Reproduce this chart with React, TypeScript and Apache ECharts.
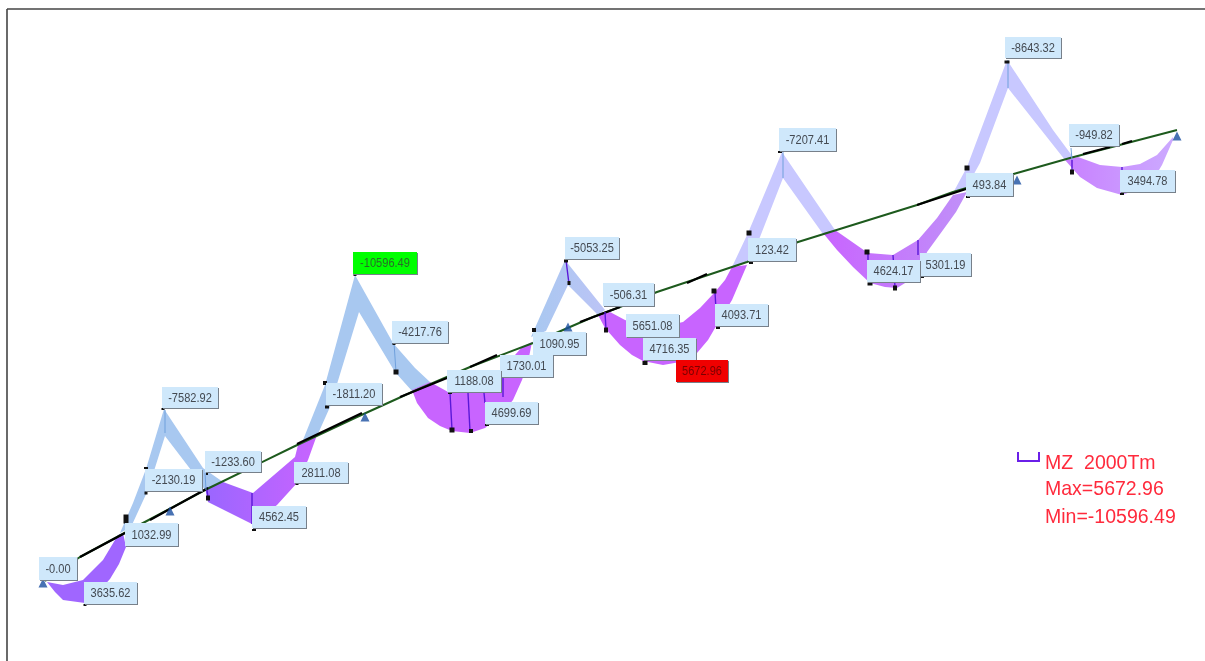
import React, { useEffect, useRef } from "react";
import * as echarts from "echarts";

// Beam axis
const beamPoints = [[45,581],[80,557],[143,523],[205,490],[293,447],[357,417],[412,392],[470,367],[533,343],[593,317],[620,307],[657,292],[747,262],[798,242],[917,205],[953,192],[1017,173],[1070,158],[1177,130]];
const beamBlackRuns = [[[80,557],[125,533]],[[150,520],[208,488]],[[297,444],[362,413]],[[400,397],[447,378]],[[470,367],[497,355]],[[535,341],[555,333]],[[580,322],[620,307]],[[687,283],[707,274]],[[917,205],[966,189]],[[1083,154],[1110,147]],[[1122,144],[1132,141]]];

// Moment diagram bands
const sag1 = [[47,582],[55,592],[63,600],[85,603],[98,592],[110,579],[119,564],[126,547],[123,533],[118,535],[103,560],[83,580],[63,585]];
const hog1 = [[120,533],[133,503],[146,469],[164,409],[203,468],[223,482],[205,490],[191,470],[165,436],[148,490],[131,527]];
const sag2 = [[205,488],[208,502],[252,524],[277,505],[297,483],[308,460],[317,435],[298,445],[295,457],[253,493],[223,482]];
const hog2 = [[303,440],[325,385],[355,275],[393,343],[415,368],[430,382],[412,391],[395,372],[359,312],[330,407],[317,436]];
const sag3 = [[412,390],[430,382],[450,393],[483,393],[500,380],[515,355],[522,347],[532,342],[528,362],[522,380],[513,400],[500,416],[485,428],[470,433],[452,431],[440,426],[428,418],[417,403]];
const hog3 = [[531,337],[565,260],[605,310],[598,315],[568,285],[546,331]];
const sag4 = [[598,315],[605,328],[620,345],[632,355],[643,361],[663,365],[680,362],[697,353],[708,340],[715,328],[732,300],[747,265],[732,267],[725,280],[715,292],[700,308],[683,322],[670,325],[640,325],[625,320],[610,312]];
const hog4 = [[732,267],[748,233],[782,152],[835,230],[823,234],[783,178],[760,237],[748,262]];
const sag5 = [[823,233],[835,230],[868,253],[893,255],[918,240],[937,218],[953,195],[967,192],[956,212],[943,230],[927,252],[922,267],[910,280],[897,288],[885,287],[870,283],[853,267],[837,250]];
const hog5 = [[953,193],[967,167],[1007,60],[1053,130],[1073,157],[1065,160],[1008,88],[980,163],[965,190]];
const sag6 = [[1065,160],[1078,157],[1100,165],[1122,167],[1140,164],[1157,155],[1173,137],[1173,140],[1162,165],[1150,185],[1122,195],[1097,188],[1080,177]];

// Labelled results
const labelTexts = ["-7582.92","-2130.19","1032.99","-1233.60","-0.00","3635.62","4562.45","2811.08","-1811.20","-10596.49","-4217.76","1090.95","1730.01","1188.08","4699.69","-5053.25","-506.31","5651.08","4716.35","5672.96","4093.71","123.42","-7207.41","5301.19","4624.17","493.84","-8643.32","-949.82","3494.78"];
const labelCorners = [[162,387],[145,469],[125,523],[205,451],[39,557],[84,582],[252,506],[294,462],[326,383],[353,252],[392,321],[533,332],[500,355],[447,370],[485,402],[565,237],[603,283],[626,314],[643,338],[676,360],[715,304],[748,238],[779,128],[920,253],[867,260],[966,173],[1005,37],[1069,124],[1120,170]];
const labelWidths = [56,57,53,56,38,53,54,54,56,64,56,53,53,54,53,54,51,53,53,52,53,48,57,51,53,47,56,50,55];
const labelHeights = [21,22,23,21,23,22,22,21,22,22,22,23,22,22,22,22,23,23,22,22,22,23,23,23,22,23,21,22,22];

// Result stations and leader lines
const nodeMarks = [[126,519,5,9],[146,468,4,2],[146,493,3,3],[163,409,3,2],[207,474,2,2],[208,498,4,5],[254,530,4,2],[297,484,3,2],[85,605,3,2],[325,383,4,4],[327,407,4,3],[355,275,3,2],[394,344,3,2],[396,372,5,5],[450,393,4,2],[452,430,5,5],[471,431,4,4],[487,425,4,2],[534,330,4,4],[566,261,4,3],[569,283,3,4],[606,330,4,5],[645,363,5,4],[714,291,5,5],[718,328,4,2],[780,152,4,2],[749,233,5,5],[751,263,4,2],[867,252,5,5],[870,284,5,3],[895,288,4,5],[967,168,5,5],[968,197,4,2],[922,277,4,2],[1007,62,5,3],[1072,172,4,5],[1122,194,4,2]];
const blueLeaders = [[[165,410],[165,433]],[[205,473],[206,490]],[[394,343],[396,372]],[[783,152],[783,178]],[[1008,60],[1008,88]],[[1071,148],[1072,160]]];
const purpleLeaders = [[[207,490],[208,498]],[[252,493],[252,524]],[[450,393],[452,430]],[[468,393],[470,431]],[[484,393],[485,403]],[[503,378],[503,397]],[[566,260],[569,284]],[[605,312],[606,330]],[[715,292],[717,328]],[[868,253],[868,262]],[[893,255],[895,287]],[[918,240],[918,255]],[[1072,160],[1072,172]],[[1122,167],[1122,171]]];
const supports = [[43,583],[170,511],[365,417],[568,327],[1017,180],[1177,136]];

const legendLines = ["MZ  2000Tm", "Max=5672.96", "Min=-10596.49"];

const BLUE = "#a8c8f0";
const LAV = "#c8c8ff";
const band = (name: string, points: number[][], fill: any) => ({
  type: "custom", name, silent: true, coordinateSystem: "cartesian2d", clip: false,
  encode: { x: 0, y: 1 }, data: points,
  renderItem: (params: any, api: any) => params.dataIndex !== 0 ? null : ({
    type: "polygon",
    shape: { points: points.map((p) => api.coord(p)) },
    style: { fill },
  }),
});
const grad = (a: string, b: string) => new echarts.graphic.LinearGradient(0, 0, 1, 0, [{ offset: 0, color: a }, { offset: 1, color: b }]);
const runs = (list: number[][][]) => list.flatMap((r, i) => (i ? [[null, null], ...r] : r));

export default function App() {
  const ref = useRef<HTMLDivElement>(null);
  useEffect(() => {
    document.body.style.margin = "0";
    document.body.style.background = "#fff";
    const chart = echarts.init(ref.current!, null, { renderer: "svg" });
    const lineSeries = (name: string, data: any[], color: string, width: number, z = 3) => ({
      type: "line", name, data, symbol: "none", silent: true, connectNulls: false, z,
      lineStyle: { color, width },
    });
    chart.setOption({
      animation: false,
      backgroundColor: "#ffffff",
      grid: { left: 0, right: 0, top: 0, bottom: 0 },
      xAxis: { type: "value", min: 0, max: 1205, show: false },
      yAxis: { type: "value", min: 0, max: 661, inverse: true, show: false },
      graphic: [
        { type: "line", shape: { x1: 7, y1: 9, x2: 1205, y2: 9 }, style: { stroke: "#444", lineWidth: 1.6 } },
        { type: "line", shape: { x1: 7, y1: 9, x2: 7, y2: 661 }, style: { stroke: "#444", lineWidth: 1.6 } },
        { type: "polyline", shape: { points: [[1018, 452], [1018, 461], [1039, 461], [1039, 452]] }, style: { stroke: "#6a1fe8", lineWidth: 2, fill: "none" } },
        ...legendLines.map((t, i) => ({
          type: "text", x: 1045, y: [462, 488, 516][i], scaleX: 0.93,
          style: { text: t, fill: "#ff2a3c", font: "21px 'Liberation Sans'", textVerticalAlign: "middle" },
        })),
      ],
      series: [
        band("sag1", sag1, "#a066ff"),
        band("hog1", hog1, BLUE),
        band("sag2", sag2, grad("#9a66ff", "#c864ff")),
        band("hog2", hog2, BLUE),
        band("sag3", sag3, "#c864ff"),
        band("hog3", hog3, grad("#a8c8f0", "#bcc4f6")),
        band("sag4", sag4, "#c864ff"),
        band("hog4", hog4, LAV),
        band("sag5", sag5, grad("#c864ff", "#c090f8")),
        band("hog5", hog5, LAV),
        band("sag6", sag6, grad("#c880ff", "#ccaaff")),
        lineSeries("beam", beamPoints, "#1d5a1d", 2),
        lineSeries("beam black", runs(beamBlackRuns), "#000000", 2.2, 4),
        lineSeries("blue leaders", runs(blueLeaders), "#6fa0dc", 1, 5),
        lineSeries("purple leaders", runs(purpleLeaders), "#5a18d8", 1.4, 5),
        {
          type: "scatter", name: "supports", data: supports, symbol: "triangle", symbolSize: 9, silent: true, z: 5,
          itemStyle: { color: "#1a4fa0" },
        },
        {
          type: "custom", name: "nodes", silent: true, z: 6, clip: false, encode: { x: 0, y: 1 },
          data: nodeMarks,
          renderItem: (_: any, api: any) => {
            const [x, y] = api.coord([api.value(0), api.value(1)]);
            const w = api.value(2), h = api.value(3);
            return { type: "rect", shape: { x: x - w / 2, y: y - h / 2, width: w, height: h }, style: { fill: "#111" } };
          },
        },
        {
          type: "custom", name: "labels", silent: true, z: 10, clip: false, encode: { x: 0, y: 1 },
          data: labelCorners.map((c, i) => [c[0], c[1], i]),
          renderItem: (_: any, api: any) => {
            const i = api.value(2);
            const [x, y] = api.coord([api.value(0), api.value(1)]);
            const w = labelWidths[i], h = labelHeights[i];
            const t = labelTexts[i];
            const fill = t === "-10596.49" ? "#00ff00" : t === "5672.96" ? "#f00000" : "#cfe8fb";
            const color = t === "5672.96" ? "#7a0000" : t === "-10596.49" ? "#2a6a2a" : "#444a52";
            return {
              type: "group",
              children: [
                { type: "rect", shape: { x: x + 1, y: y + 1, width: w, height: h }, style: { fill: "#77808a" } },
                { type: "rect", shape: { x, y, width: w, height: h }, style: { fill } },
                {
                  type: "text", x: x + w / 2, y: y + h / 2, scaleX: 0.82,
                  style: { text: t, fill: color, font: "13.5px 'Liberation Sans'", align: "center", verticalAlign: "middle" },
                },
              ],
            };
          },
        },
      ],
    });
    return () => chart.dispose();
  }, []);
  return (
    <div
      ref={ref}
      style={{ position: "fixed", left: 0, top: 0, width: 1205, height: 661, filter: "blur(0.6px)" }}
    />
  );
}
